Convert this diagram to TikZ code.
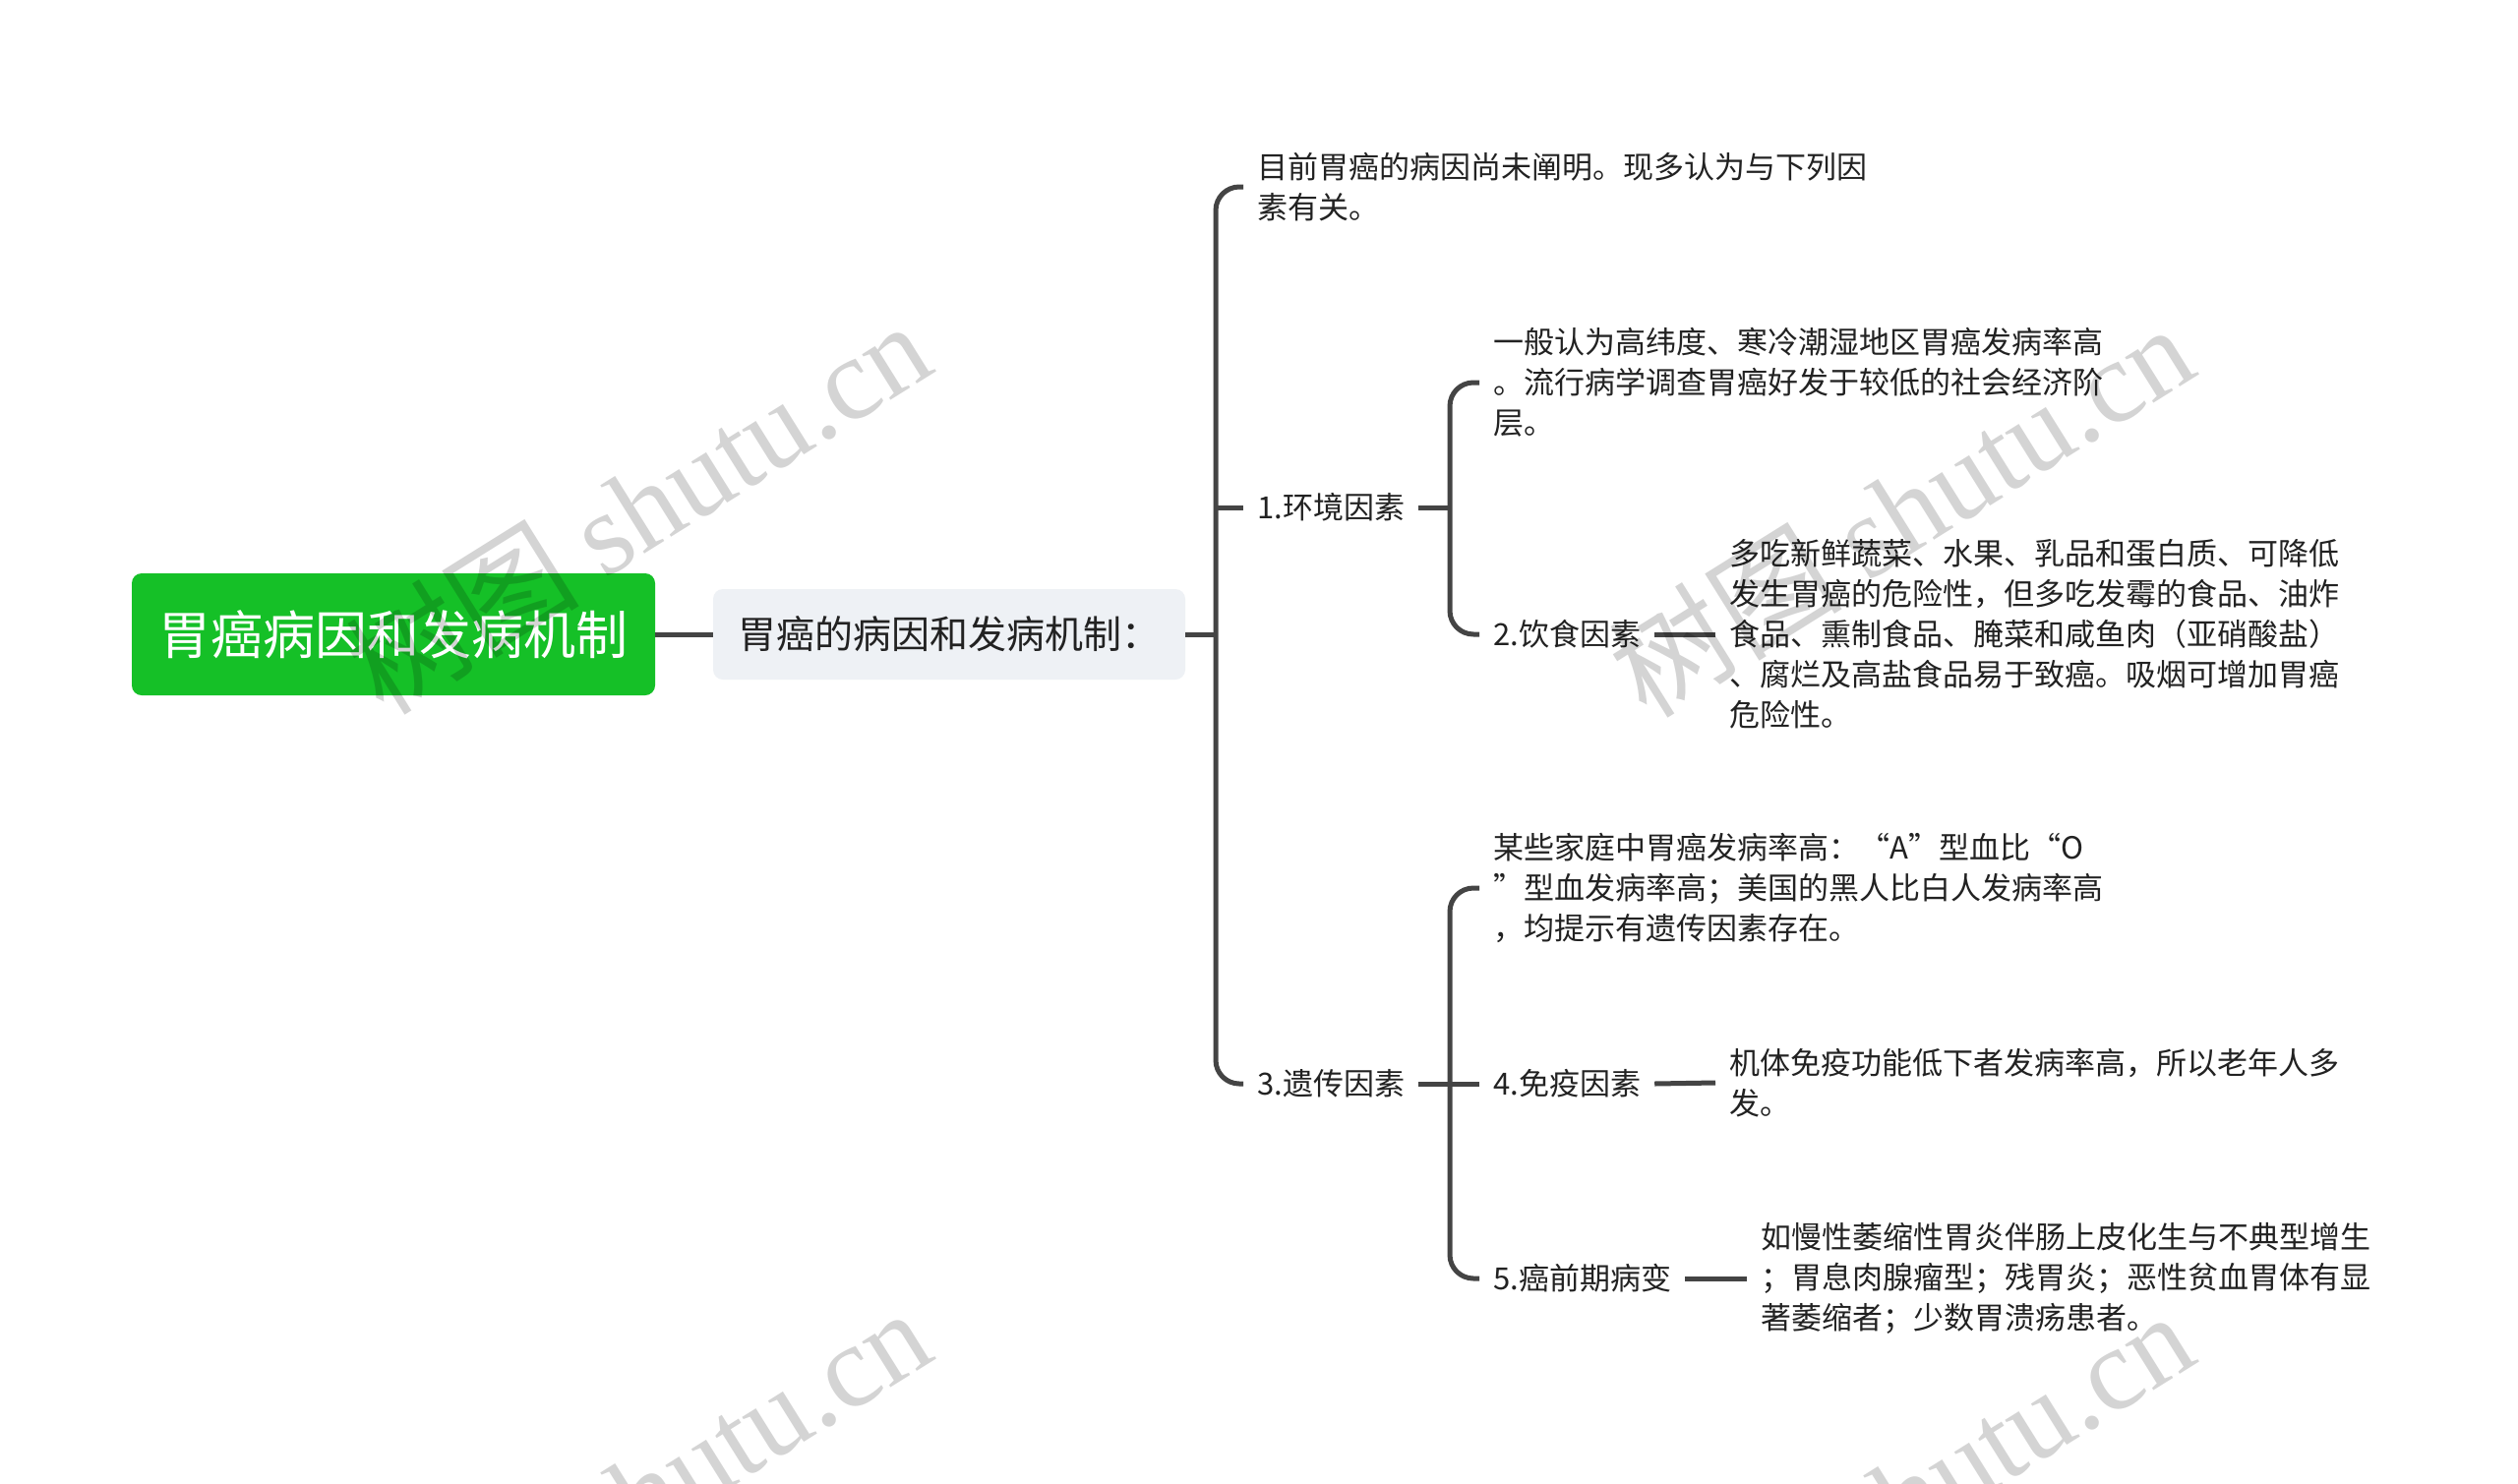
\documentclass[tikz,border=0pt]{standalone}
\usepackage{fontspec}
\setmainfont{Noto Sans CJK SC}
\newfontfamily\wmlatin{Liberation Serif}
\definecolor{rootgreen}{HTML}{15C027}
\definecolor{subgray}{HTML}{EEF1F5}
\definecolor{linegray}{HTML}{444444}
\definecolor{txt}{HTML}{222222}
\tikzset{
  rootbox/.style={fill=rootgreen, rounded corners=10pt, text=white, minimum width=532pt, minimum height=124pt, inner sep=0pt, font=\fontsize{53}{60}\selectfont},
  subbox/.style={fill=subgray, rounded corners=10pt, text=txt, minimum width=480pt, minimum height=92pt, inner sep=0pt, font=\fontsize{39}{46}\selectfont},
  lbl/.style={anchor=west, text=txt, inner xsep=14pt, inner ysep=4pt, font=\fontsize{31}{41}\selectfont},
  leaf/.style={anchor=west, text=txt, align=left, inner xsep=14pt, inner ysep=4pt, font=\fontsize{31}{41}\selectfont},
  conn/.style={draw=linegray, line width=5pt, rounded corners=24pt},
  wmark/.style={rotate=32, text=black, opacity=0.17, font=\fontsize{119}{124}\selectfont}
}
\begin{document}
\begin{tikzpicture}[x=1pt,y=-1pt]
\useasboundingbox (0,0) rectangle (2560,1508);
\fill[white] (0,0) rectangle (2560,1508);

\node[rootbox] (root) at (400,645) {胃癌病因和发病机制};
\node[subbox] (sub) at (965,645) {胃癌的病因和发病机制：};

\node[leaf] (t1) at (1264,190) {目前胃癌的病因尚未阐明。现多认为与下列因\\素有关。};
\node[lbl] (e1) at (1264,516) {1.环境因素};
\node[lbl] (e3) at (1264,1102) {3.遗传因素};

\node[leaf] (t2) at (1504,389) {一般认为高纬度、寒冷潮湿地区胃癌发病率高\\。流行病学调查胃癌好发于较低的社会经济阶\\层。};
\node[lbl] (e2) at (1504,645) {2.饮食因素};
\node[leaf] (t3) at (1744,645) {多吃新鲜蔬菜、水果、乳品和蛋白质、可降低\\发生胃癌的危险性，但多吃发霉的食品、油炸\\食品、熏制食品、腌菜和咸鱼肉（亚硝酸盐）\\、腐烂及高盐食品易于致癌。吸烟可增加胃癌\\危险性。};

\node[leaf] (t4) at (1504,903) {某些家庭中胃癌发病率高：“A”型血比“O\\”型血发病率高；美国的黑人比白人发病率高\\，均提示有遗传因素存在。};
\node[lbl] (e4) at (1504,1102) {4.免疫因素};
\node[leaf] (t5) at (1744,1101) {机体免疫功能低下者发病率高，所以老年人多\\发。};
\node[lbl] (e5) at (1504,1300) {5.癌前期病变};
\node[leaf] (t6) at (1776,1300) {如慢性萎缩性胃炎伴肠上皮化生与不典型增生\\；胃息肉腺瘤型；残胃炎；恶性贫血胃体有显\\著萎缩者；少数胃溃疡患者。};

\coordinate (b1) at (1236,645);
\coordinate (b2) at (1474,516);
\coordinate (b3) at (1474,1102);

\draw[conn] (root.east) -- (sub.west);
\draw[conn] (sub.east) -- (b1);
\draw[conn] (t1.west) -| (b1) |- (e3.west);
\draw[conn] (b1 |- e1.west) -- (e1.west);

\draw[conn] (e1.east) -- (b2);
\draw[conn] (t2.west) -| (b2) |- (e2.west);
\draw[conn] (e2.east) -- (t3.west);

\draw[conn] (e3.east) -- (b3);
\draw[conn] (t4.west) -| (b3) |- (e5.west);
\draw[conn] (b3) -- (e4.west);
\draw[conn] (e4.east) -- (t5.west);
\draw[conn] (e5.east) -- (t6.west);

\begin{scope}
\clip (0,0) rectangle (2560,1508);
\node[wmark] (wm1) at (648,515) {树图 {\wmlatin shutu.cn}};
\node[wmark] (wm2) at (1932,518) {树图 {\wmlatin shutu.cn}};
\node[wmark] (wm3) at (648,1519) {树图 {\wmlatin shutu.cn}};
\node[wmark] (wm4) at (1932,1522) {树图 {\wmlatin shutu.cn}};
\end{scope}
\end{tikzpicture}
\end{document}
